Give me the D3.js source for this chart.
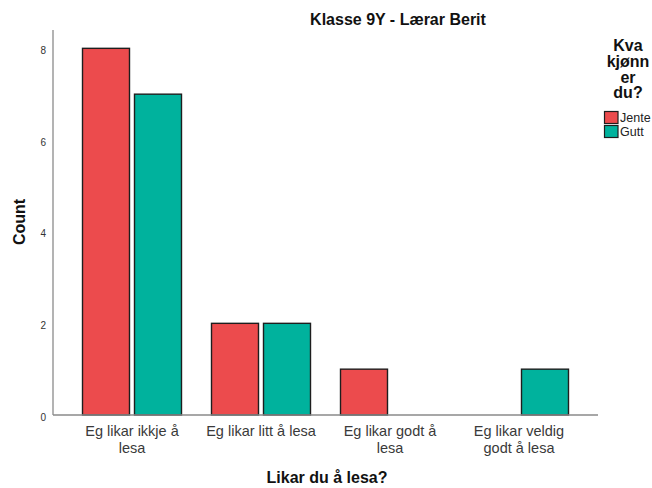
<!DOCTYPE html>
<html><head><meta charset="utf-8">
<script src="https://cdn.jsdelivr.net/npm/d3@7"></script>
<style>body{margin:0;background:#fff}svg{display:block;font-family:"Liberation Sans",Arial,sans-serif}</style>
</head><body><svg id="c" width="652" height="488"></svg>
<script>
const categories = [["Eg likar ikkje å","lesa"],["Eg likar litt å lesa"],["Eg likar godt å","lesa"],["Eg likar veldig","godt å lesa"]];
const seriesNames = ["Jente","Gutt"];
const jente = [8,2,1,0];
const gutt = [7,2,0,1];
const yTicks = [0,2,4,6,8];
const colors = ["#EC4B4D","#00B29D"];

const svg = d3.select("#c");
const x0 = d3.scaleBand().domain(d3.range(categories.length)).range([53,598]).paddingInner(0.2326).paddingOuter(0.2287);
const x1 = d3.scaleBand().domain(seriesNames).range([0,x0.bandwidth()]).paddingInner(0.096).paddingOuter(0);
const y = d3.scaleLinear().domain([0,8.4]).range([415,30]);
const values = [jente,gutt];

// y axis line
svg.append("line").attr("x1",53).attr("x2",53).attr("y1",y(8.4)).attr("y2",y(0)).attr("stroke","#9a9a9a").attr("stroke-width",1.5);

const yAxis = d3.axisLeft(y).tickValues(yTicks).tickSize(0).tickPadding(4).tickFormat(d3.format("d"));
const gy = svg.append("g").attr("transform","translate(50,0)").call(yAxis);
gy.select(".domain").remove();
gy.selectAll("text").attr("font-size",10).attr("fill","#333").attr("font-family","Liberation Sans, Arial, sans-serif").attr("transform","translate(0,2)");

// bars
seriesNames.forEach((s,si)=>{
  const data = values[si].map((v,i)=>({v,i})).filter(d=>d.v>0);
  svg.append("g").selectAll("rect").data(data).join("rect")
    .attr("x",d=>x0(d.i)+x1(s))
    .attr("y",d=>y(d.v))
    .attr("width",x1.bandwidth())
    .attr("height",d=>y(0)-y(d.v))
    .attr("fill",colors[si]).attr("stroke","#1e1e1e").attr("stroke-width",1.4);
});
// x baseline
svg.append("line").attr("x1",53).attr("x2",598).attr("y1",y(0)).attr("y2",y(0)).attr("stroke","#8a8a8a").attr("stroke-width",1.3);

// x tick labels (one text per line)
categories.forEach((lines,i)=>{
  const cx = x0(i)+x0.bandwidth()/2;
  lines.forEach((l,k)=>svg.append("text").attr("x",cx).attr("y",436+k*16.5)
    .attr("text-anchor","middle").attr("font-size",14.5).attr("fill","#3a3a3a").text(l));
});

// titles
svg.append("text").attr("x",398).attr("y",25).attr("text-anchor","middle").attr("font-size",16).attr("font-weight","bold").attr("fill","#111").text("Klasse 9Y - Lærar Berit");
svg.append("text").attr("x",327).attr("y",483).attr("text-anchor","middle").attr("font-size",16).attr("font-weight","bold").attr("fill","#111").text("Likar du å lesa?");
svg.append("text").attr("transform","translate(25,222) rotate(-90)").attr("text-anchor","middle").attr("font-size",16).attr("font-weight","bold").attr("fill","#111").text("Count");

// legend
const legTitle = ["Kva","kjønn","er","du?"];
legTitle.forEach((l,k)=>svg.append("text").attr("x",628).attr("y",51+k*15.8).attr("text-anchor","middle").attr("font-size",16).attr("font-weight","bold").attr("fill","#111").text(l));
seriesNames.forEach((s,si)=>{
  svg.append("rect").attr("x",604.5).attr("y",111.5+si*14).attr("width",13.5).attr("height",12).attr("fill",colors[si]).attr("stroke","#1e1e1e").attr("stroke-width",1.2);
  svg.append("text").attr("x",620).attr("y",122+si*14).attr("font-size",12.5).attr("fill","#222").text(s);
});
</script></body></html>
